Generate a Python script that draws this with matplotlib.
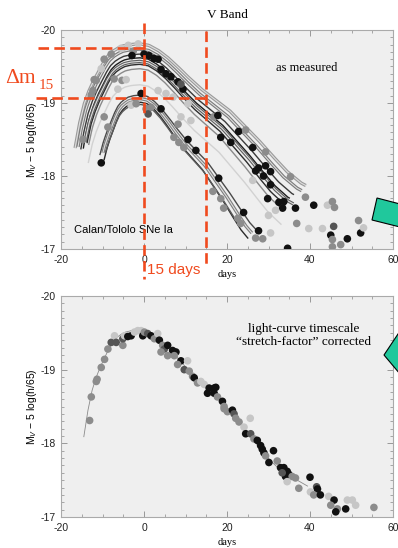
import numpy as np
import matplotlib
matplotlib.use('Agg')
import matplotlib.pyplot as plt
from matplotlib.patches import Polygon
from matplotlib.ticker import MultipleLocator, FormatStrFormatter

plt.rcParams['font.family'] = ['Liberation Sans', 'DejaVu Sans']
plt.rcParams['axes.unicode_minus'] = False
plt.rcParams['mathtext.fontset'] = 'custom'
plt.rcParams['mathtext.rm'] = 'Liberation Sans'
plt.rcParams['mathtext.it'] = 'Liberation Sans:italic'

# stretch-corrected template light curve (line in the lower panel)
tmpl_day = [-14.5, -13.5, -12.5, -11.5, -10.5, -9.5, -8.5, -7.5, -6.5, -5.5, -4.5, -3.0,
            -1.0, 1.0, 3.0, 5.0, 7.0, 9.0, 12.0, 15.0, 18.0, 21.0, 24.0, 27.0, 30.0,
            33.0, 36.0, 39.4]
tmpl_mag = [-18.09, -18.45, -18.72, -18.90, -19.04, -19.16, -19.28, -19.38, -19.44, -19.48,
            -19.51, -19.53, -19.54, -19.52, -19.45, -19.35, -19.23, -19.10, -18.92, -18.77,
            -18.62, -18.42, -18.22, -18.00, -17.79, -17.63, -17.53, -17.42]

# individual supernova fits in the upper panel: stretch, peak magnitude, first and last day
sn_stretch = [1.15, 1.12, 1.08, 1.05, 1.05, 1.02, 1.00, 1.00, 0.85, 0.82, 0.78, 0.80]
sn_peak = [-19.81, -19.74, -19.67, -19.62, -19.57, -19.53, -19.47, -19.25, -19.11, -19.06, -19.01, -18.98]
sn_start = [-16.6, -15.9, -15.2, -14.6, -14.2, -13.7, -13.3, -13.4, -10.6, -9.9, -9.6, -9.2]
sn_end = [39, 38, 36, 35, 36, 34, 33, 33, 27, 26, 25, 23]

# measured points, upper panel
top_day = [-3.8, -1.4, -2.6, -5.5, -7.9, -10.3, -11.5, -12.3, -7.2, -5.3,
           -2.9, 0.0, 1.2, 2.4, 3.4, 4.1, 5.3, 6.5, 8.2, 9.4,
           8.9, -0.7, 0.5, 1.7, 1.0, 4.1, 3.4, 5.3, 7.0, 10.6,
           8.9, 8.2, 11.3, 7.2, 8.4, 9.6, 10.6, 12.5, 16.8, 17.8,
           18.5, 20.9, 18.0, 16.6, 18.5, 19.2, -12.0, -9.6, -12.7, -6.3,
           -4.3, -3.1, -1.9, -9.6, -10.3, -8.7, -14.7, 22.8, 24.5, 26.2,
           29.3, 27.6, 26.9, 29.3, 30.5, 28.8, 30.5, 26.2, 35.3, 29.8,
           32.5, 33.7, 33.4, 36.5, 38.9, 40.9, 44.2, 45.4, 45.9, 24.0,
           27.6, 22.6, 23.3, 26.9, 28.6, 30.0, 31.7, 30.5, 36.8, 39.7,
           43.0, 45.7, 45.0, 49.0, 52.2, 51.7, 52.9, 45.4, 47.4, 45.4, 34.6]
top_mag = [-19.79, -19.81, -19.71, -19.75, -19.67, -19.47, -19.31, -19.17, -19.33, -19.31,
           -19.65, -19.67, -19.65, -19.61, -19.60, -19.46, -19.40, -19.36, -19.29, -19.19,
           -19.26, -19.13, -18.92, -18.94, -18.85, -18.92, -19.17, -19.13, -19.08, -18.99,
           -18.81, -18.71, -18.76, -18.53, -18.46, -18.39, -18.50, -18.35, -18.81, -18.83,
           -18.53, -18.46, -17.97, -17.79, -17.69, -17.56, -19.32, -19.60, -19.11, -19.19,
           -19.32, -18.97, -18.99, -18.81, -18.18, -18.67, -18.50, -18.61, -18.63, -18.39,
           -18.33, -18.11, -18.07, -18.14, -18.06, -18.00, -17.88, -17.94, -17.99, -17.69,
           -17.64, -17.65, -17.56, -17.56, -17.71, -17.60, -17.60, -17.65, -17.57, -17.50,
           -17.25, -17.42, -17.35, -17.15, -17.14, -17.46, -17.53, -17.22, -17.35, -17.28,
           -17.28, -17.31, -17.19, -17.14, -17.22, -17.39, -17.29, -17.13, -17.06, -17.03, -17.01]

# measured points, lower panel (stretch corrected)
bot_day = [-13.1, -12.7, -11.5, -11.3, -10.3, -9.5, -8.7, -7.9, -7.1, -6.7,
           -5.1, -5.1, -4.7, -3.9, -3.1, -2.3, -1.5, -0.7, -0.3, 0.1,
           0.9, 1.7, 2.5, 3.3, 3.7, 4.5, 4.9, 5.7, 6.9, 7.7,
           7.3, 8.9, 10.5, 8.1, 9.7, 10.9, 11.7, 12.1, 12.9, 13.7,
           14.5, 15.7, 16.9, 15.3, 16.9, 17.7, 18.9, 19.3, 20.1, 4.1,
           5.7, 17.3, 19.3, 21.3, 21.7, 22.1, 22.9, 24.1, 25.6, 24.5,
           25.7, 26.5, 27.3, 28.1, 28.5, 28.9, 29.3, 31.2, 30.1, 32.1,
           32.9, 33.7, 34.5, 34.9, 34.1, 33.3, 35.7, 36.5, 34.5, 37.3,
           40.0, 41.6, 41.8, 40.1, 40.9, 42.5, 44.5, 45.8, 45.0, 46.6,
           48.6, 49.0, 50.2, 51.0, 46.2, 55.4]
bot_mag = [-18.31, -18.63, -18.84, -18.87, -19.03, -19.14, -19.28, -19.37, -19.46, -19.37,
           -19.33, -19.42, -19.46, -19.45, -19.46, -19.51, -19.53, -19.53, -19.46, -19.51,
           -19.49, -19.46, -19.42, -19.49, -19.40, -19.33, -19.28, -19.33, -19.26, -19.24,
           -19.19, -19.12, -19.12, -19.07, -19.00, -18.98, -18.91, -18.89, -18.82, -18.84,
           -18.80, -18.75, -18.75, -18.68, -18.68, -18.63, -18.57, -18.47, -18.43, -19.24,
           -19.19, -18.76, -18.50, -18.45, -18.40, -18.34, -18.29, -18.22, -18.34, -18.13,
           -18.13, -18.06, -18.04, -17.97, -17.92, -17.87, -17.83, -17.90, -17.74, -17.76,
           -17.67, -17.67, -17.62, -17.58, -17.55, -17.60, -17.55, -17.53, -17.48, -17.39,
           -17.54, -17.41, -17.38, -17.34, -17.30, -17.30, -17.28, -17.23, -17.16, -17.11,
           -17.11, -17.23, -17.23, -17.16, -17.07, -17.13]

# styling
shade_colors = {'k': '#111111', 'd': '#555555', 'g': '#8c8c8c', 'l': '#c6c6c6'}
top_shade = ("llglglgggg" "kkkkkkkkkk" "dkggdkllll" "lglgggkkgk" "kkkggggggl"
             "llggkggkgk" "gkkkkkklgk" "kkkkgklggk" "kgggglllgl" "ldkkkglgggk")
bot_shade = ("gggggggdld" "gdlkklllkg" "dkglkgdkkk" "gklgdggkgl" "lkkkkgkggg"
             "gkgkdggllk" "dgkkkkgkkg" "kkkkkdgglg" "kdklgklkgg" "klllkgl")[:len(bot_day)]
curve_colors = ['#9a9a9a', '#7a7a7a', '#3a3a3a', '#1e1e1e', '#5e5e5e', '#2e2e2e',
                '#8a8a8a', '#d2d2d2', '#4a4a4a', '#7e7e7e', '#2a2a2a', '#5a5a5a']
curve_double = [True, True, False, False, True, False, False, False, False, True, False, False]

W, H = 398, 548
RED = '#f04a1e'
GREEN = '#20c89c'
BG = '#efefef'

fig = plt.figure(figsize=(W / 100, H / 100), dpi=100)


def fx(x):
    return x / W


def fy(y):
    return 1 - y / H


def style_axes(ax):
    ax.set_facecolor(BG)
    ax.set_xlim(-20, 60)
    ax.set_ylim(-17, -20)
    ax.xaxis.set_major_locator(MultipleLocator(20))
    ax.xaxis.set_minor_locator(MultipleLocator(5))
    ax.yaxis.set_major_locator(MultipleLocator(1))
    ax.yaxis.set_minor_locator(MultipleLocator(0.1))
    ax.yaxis.set_major_formatter(FormatStrFormatter('%d'))
    ax.tick_params(which='both', direction='in', top=True, right=True,
                   color='#999999', labelsize=7.5, labelcolor='#222222', pad=4)
    ax.tick_params(which='major', length=4, width=0.7)
    ax.tick_params(which='minor', length=2.2, width=0.6)
    for sp in ax.spines.values():
        sp.set_color('#aaaaaa')
        sp.set_linewidth(0.8)
    ax.set_xlabel('days', family='Liberation Serif', fontsize=7.5, labelpad=4)
    ax.set_ylabel(r'M$_V$ $-$ 5 log(h/65)', fontsize=7.5, labelpad=1)


# ---- upper panel: as measured ----
ax1 = fig.add_axes([fx(61), fy(249), (393 - 61) / W, (249 - 30) / H])
style_axes(ax1)
td = np.array(tmpl_day)
tm = np.array(tmpl_mag)
for s, pk, d0, d1, c, dbl in zip(sn_stretch, sn_peak, sn_start, sn_end, curve_colors, curve_double):
    d = np.linspace(d0, d1, 150)
    m = np.interp(d / s, td, tm) - tm.min() + pk
    if dbl:
        ax1.plot(d, m, color=c, lw=2.4, zorder=2, solid_capstyle='butt')
        ax1.plot(d, m, color='#dedede', lw=0.8, zorder=2.1)
    else:
        ax1.plot(d, m, color=c, lw=1.0, zorder=2)
ax1.scatter(top_day, top_mag, s=30, c=[shade_colors[k] for k in top_shade],
            edgecolors='none', zorder=3)
ax1.text(0.5, 1.04, 'V Band', transform=ax1.transAxes, ha='center', va='bottom',
         family='Liberation Serif', fontsize=9.5)
ax1.text(0.74, 0.826, 'as measured', transform=ax1.transAxes, ha='center', va='center',
         family='Liberation Serif', fontsize=9)
ax1.text(0.04, 0.087, 'Calan/Tololo SNe Ia', transform=ax1.transAxes, ha='left', va='center',
         fontsize=8)

# red Δm15 construction
dash = dict(color=RED, lw=1.9, dashes=(4, 2), clip_on=False, zorder=5)
ax1.plot([0, 0], [-20.10, -16.59], **dash)
ax1.plot([15, 15], [-19.99, -16.74], **dash)
ax1.plot([-25.5, 0], [-19.76, -19.76], **dash)
ax1.plot([-26.0, 15], [-19.07, -19.07], **dash)
fig.text(fx(5), fy(83), u'\u0394m', color=RED, family='Liberation Serif', fontsize=15.5,
         ha='left', va='baseline')
fig.text(fx(39), fy(89), '15', color=RED, family='Liberation Serif', fontsize=11,
         ha='left', va='baseline')
fig.text(fx(147), fy(270), '15 days', color=RED, fontsize=11, ha='left', va='center')

# ---- lower panel: stretch corrected ----
ax2 = fig.add_axes([fx(61), fy(517), (393 - 61) / W, (517 - 296) / H])
style_axes(ax2)
ax2.plot(tmpl_day, tmpl_mag, color='#8a8a8a', lw=0.6, zorder=2)
ax2.scatter(bot_day, bot_mag, s=30, c=[shade_colors[k] for k in bot_shade],
            edgecolors='none', zorder=3)
ax2.text(0.73, 0.82, 'light-curve timescale\n\u201cstretch-factor\u201d corrected',
         transform=ax2.transAxes, ha='center', va='center', family='Liberation Serif',
         fontsize=9.5, linespacing=1.15)

# green arrows (cut at the figure edge)
fig.add_artist(Polygon([(fx(377), fy(198)), (fx(400), fy(204)), (fx(400), fy(227)),
                        (fx(372), fy(220))], closed=True, facecolor=GREEN,
                       edgecolor='black', lw=0.8, transform=fig.transFigure, zorder=6))
fig.add_artist(Polygon([(fx(384), fy(355)), (fx(400), fy(331)), (fx(400), fy(374))],
                       closed=True, facecolor=GREEN, edgecolor='black', lw=0.8,
                       transform=fig.transFigure, zorder=6))

fig.savefig('out.png', dpi=100)
